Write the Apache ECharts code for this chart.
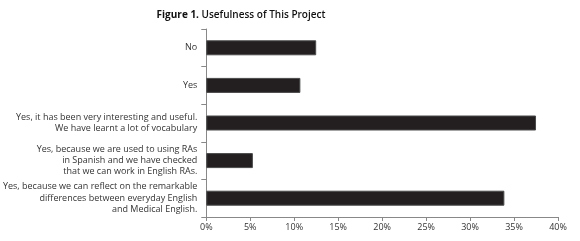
<!DOCTYPE html>
<html><head><meta charset="utf-8">
<script src="https://cdn.jsdelivr.net/npm/echarts@6/dist/echarts.min.js"></script>
<style>html,body{margin:0;padding:0;background:#fff}#c{width:580px;height:241px}</style>
</head><body><div id="c"></div>
<script>
const categories = [
  "No",
  "Yes",
  "Yes, it has been very interesting and useful.\nWe have learnt a lot of vocabulary",
  "Yes, because we are used to using RAs\nin Spanish and we have checked\nthat we can work in English RAs.",
  "Yes, because we can reflect on the remarkable\ndifferences between everyday English\nand Medical English."
];
const values = [12.5, 10.7, 37.5, 5.3, 33.9];
const xTicks = [0, 5, 10, 15, 20, 25, 30, 35, 40];

const chart = echarts.init(document.getElementById('c'), null, {renderer: 'canvas'});
chart.setOption({
  animation: false,
  title: {
    text: '{b|Figure 1.}{n| Usefulness of This Project}',
    left: 236, textAlign: 'center', top: 5,
    textStyle: {
      rich: {
        b: {fontFamily: 'Open Sans', fontWeight: 'bold', fontSize: 10, color: '#111'},
        n: {fontFamily: 'Open Sans', fontWeight: 600, fontSize: 10, color: '#111'}
      }
    }
  },
  grid: {left: 205, right: 22, top: 29, bottom: 24, containLabel: false},
  xAxis: {
    type: 'value', min: 0, max: 40, interval: 5,
    axisLine: {show: true, lineStyle: {color: '#888', width: 1}},
    axisTick: {show: true, length: 4, lineStyle: {color: '#888'}},
    splitLine: {show: false},
    axisLabel: {formatter: v => v + '%', fontFamily: 'Open Sans', fontSize: 9, color: '#333', margin: 6}
  },
  yAxis: {
    type: 'category', data: categories, inverse: true,
    axisLine: {show: true, lineStyle: {color: '#888', width: 1}},
    axisTick: {show: true, length: 5, inside: false, lineStyle: {color: '#888'}},
    axisLabel: {fontFamily: 'Open Sans', fontSize: 9, color: '#333', lineHeight: 11.3, align: 'right', margin: 9}
  },
  series: [{
    type: 'bar', data: values, barWidth: 15,
    itemStyle: {color: '#231f20', borderColor: '#4a4a4a', borderWidth: 1}
  }]
});
</script></body></html>
